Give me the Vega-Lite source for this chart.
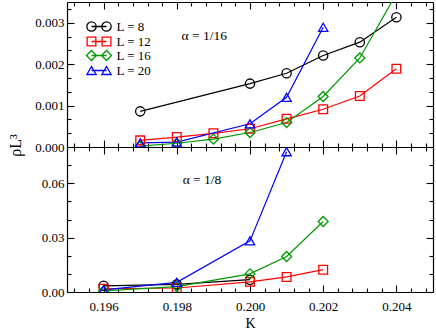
{
  "$schema": "https://vega.github.io/schema/vega-lite/v6.json",
  "padding": {"left": 7, "top": 1, "right": 2, "bottom": 0},
  "config": {
    "font": "Liberation Serif",
    "view": {"stroke": null},
    "axis": {
      "domainColor": "black", "domainWidth": 1.2, "tickColor": "black", "tickWidth": 1.1,
      "labelColor": "black", "titleColor": "black", "labelFont": "Liberation Serif", "titleFont": "Liberation Serif",
      "labelFontSize": 13, "titleFontWeight": "normal", "grid": false, "labelOverlap": false, "labelFlush": false
    },
    "legend": {
      "title": null, "orient": "none", "legendX": 25, "legendY": 17.5, "padding": 0, "labelFontSize": 13, "labelFont": "Liberation Serif", "labelColor": "black",
      "symbolSize": 144, "symbolStrokeWidth": 1.3, "rowPadding": -4, "labelOffset": 10.5
    }
  },
  "datasets": {
    "top": [
      {"L": "L = 8", "K": 0.197, "v": 0.00086},
      {"L": "L = 8", "K": 0.200, "v": 0.00153},
      {"L": "L = 8", "K": 0.201, "v": 0.00178},
      {"L": "L = 8", "K": 0.202, "v": 0.00221},
      {"L": "L = 8", "K": 0.203, "v": 0.00253},
      {"L": "L = 8", "K": 0.204, "v": 0.00313},
      {"L": "L = 12", "K": 0.197, "v": 0.00016},
      {"L": "L = 12", "K": 0.198, "v": 0.00024},
      {"L": "L = 12", "K": 0.199, "v": 0.00033},
      {"L": "L = 12", "K": 0.200, "v": 0.00044},
      {"L": "L = 12", "K": 0.201, "v": 0.00068},
      {"L": "L = 12", "K": 0.202, "v": 0.00091},
      {"L": "L = 12", "K": 0.203, "v": 0.00123},
      {"L": "L = 12", "K": 0.204, "v": 0.00189},
      {"L": "L = 16", "K": 0.197, "v": 0.00002},
      {"L": "L = 16", "K": 0.198, "v": 0.00009},
      {"L": "L = 16", "K": 0.199, "v": 0.00019},
      {"L": "L = 16", "K": 0.200, "v": 0.00035},
      {"L": "L = 16", "K": 0.201, "v": 0.00059},
      {"L": "L = 16", "K": 0.202, "v": 0.00122},
      {"L": "L = 16", "K": 0.203, "v": 0.00215},
      {"L": "L = 16", "K": 0.204, "v": 0.0037},
      {"L": "L = 20", "K": 0.197, "v": 0.0001},
      {"L": "L = 20", "K": 0.198, "v": 0.00012},
      {"L": "L = 20", "K": 0.200, "v": 0.00056},
      {"L": "L = 20", "K": 0.201, "v": 0.0012},
      {"L": "L = 20", "K": 0.202, "v": 0.00289}
    ],
    "bottom": [
      {"L": "L = 8", "K": 0.196, "v": 0.0034},
      {"L": "L = 8", "K": 0.198, "v": 0.0042},
      {"L": "L = 8", "K": 0.200, "v": 0.0068},
      {"L": "L = 12", "K": 0.196, "v": 0.0018},
      {"L": "L = 12", "K": 0.198, "v": 0.0022},
      {"L": "L = 12", "K": 0.200, "v": 0.0056},
      {"L": "L = 12", "K": 0.201, "v": 0.0083},
      {"L": "L = 12", "K": 0.202, "v": 0.0123},
      {"L": "L = 16", "K": 0.196, "v": 0.0006},
      {"L": "L = 16", "K": 0.198, "v": 0.0030},
      {"L": "L = 16", "K": 0.200, "v": 0.0100},
      {"L": "L = 16", "K": 0.201, "v": 0.0196},
      {"L": "L = 16", "K": 0.202, "v": 0.0389},
      {"L": "L = 20", "K": 0.196, "v": 0.0012},
      {"L": "L = 20", "K": 0.198, "v": 0.0053},
      {"L": "L = 20", "K": 0.200, "v": 0.0282},
      {"L": "L = 20", "K": 0.201, "v": 0.0774}
    ],
    "notesTop": [{"K": 0.19813, "v": 0.00269, "note": "α = 1/16"}],
    "notesBottom": [{"K": 0.19816, "v": 0.0618, "note": "α = 1/8"}]
  },
  "vconcat": [
    {
      "width": 366, "height": 145,
      "layer": [
        {
          "data": {"name": "top"},
          "mark": {"type": "line", "clip": true, "strokeWidth": 1.2},
          "encoding": {
            "x": {"field": "K", "type": "quantitative", "scale": {"domain": [0.195, 0.205], "nice": false, "zero": false},
              "axis": {"orient": "bottom", "title": null, "labels": false,
                "values": [0.1952,0.1956,0.196,0.1964,0.1968,0.1972,0.1976,0.198,0.1984,0.1988,0.1992,0.1996,0.2,0.2004,0.2008,0.2012,0.2016,0.202,0.2024,0.2028,0.2032,0.2036,0.204,0.2044,0.2048],
                "tickSize": {"condition": {"test": "abs(datum.value*500 - round(datum.value*500)) < 0.001", "value": -7}, "value": -4}}},
            "y": {"field": "v", "type": "quantitative", "scale": {"domain": [0, 0.0035], "nice": false},
              "axis": {"orient": "left", "title": "ρL³", "titleFontSize": 16, "titleY": 143, "titlePadding": 11.5,
                "values": [0,0.00033333,0.00066667,0.001,0.00133333,0.00166667,0.002,0.00233333,0.00266667,0.003,0.00333333],
                "labelExpr": "abs(datum.value*1000 - round(datum.value*1000)) < 0.01 ? format(datum.value, '.3f') : ''",
                "labelPadding": 10,
                "tickSize": {"condition": {"test": "abs(datum.value*1000 - round(datum.value*1000)) < 0.01", "value": -7}, "value": -4}}},
            "color": {"field": "L", "type": "nominal",
              "scale": {"domain": ["L = 8", "L = 12", "L = 16", "L = 20"], "range": ["#000000", "#ff0000", "#009900", "#0000ff"]},
              "legend": {"encode": {"symbols": {"update": {"fill": {"value": "transparent"}, "shape": {"signal": "datum.value === 'L = 8' ? 'M-1.25,0 L1.25,0 M-0.475,0 A0.775,0.775 0 1 1 -2.025,0 A0.775,0.775 0 1 1 -0.475,0 M2.025,0 A0.775,0.775 0 1 1 0.475,0 A0.775,0.775 0 1 1 2.025,0' : datum.value === 'L = 12' ? 'M-1.25,0 L1.25,0 M-1.975,-0.725 L-0.525,-0.725 L-0.525,0.725 L-1.975,0.725 Z M0.525,-0.725 L1.975,-0.725 L1.975,0.725 L0.525,0.725 Z' : datum.value === 'L = 16' ? 'M-1.25,0 L1.25,0 M-2.08,0 L-1.25,-0.83 L-0.42,0 L-1.25,0.83 Z M0.42,0 L1.25,-0.83 L2.08,0 L1.25,0.83 Z' : 'M-1.25,0 L1.25,0 M-1.25,-0.67 L-2.025,0.67 L-0.475,0.67 Z M1.25,-0.67 L0.475,0.67 L2.025,0.67 Z'"}}}}}}
          }
        },
        {
          "data": {"name": "top"},
          "transform": [{"filter": "datum.L === 'L = 8'"}],
          "mark": {"type": "point", "shape": "circle", "size": 86, "filled": false, "clip": true, "strokeWidth": 1.3, "opacity": 1},
          "encoding": {
            "x": {"field": "K", "type": "quantitative", "scale": {"domain": [0.195, 0.205], "nice": false, "zero": false},
              "axis": {"orient": "top", "title": null, "labels": false,
                "values": [0.1952,0.1956,0.196,0.1964,0.1968,0.1972,0.1976,0.198,0.1984,0.1988,0.1992,0.1996,0.2,0.2004,0.2008,0.2012,0.2016,0.202,0.2024,0.2028,0.2032,0.2036,0.204,0.2044,0.2048],
                "tickSize": {"condition": {"test": "abs(datum.value*500 - round(datum.value*500)) < 0.001", "value": -7}, "value": -4}}},
            "y": {"field": "v", "type": "quantitative", "scale": {"domain": [0, 0.0035], "nice": false},
              "axis": {"orient": "right", "title": null, "labels": false,
                "values": [0,0.00033333,0.00066667,0.001,0.00133333,0.00166667,0.002,0.00233333,0.00266667,0.003,0.00333333],
                "tickSize": {"condition": {"test": "abs(datum.value*1000 - round(datum.value*1000)) < 0.01", "value": -7}, "value": -4}}},
            "color": {"field": "L", "type": "nominal"}
          }
        },
        {
          "data": {"name": "top"},
          "transform": [{"filter": "datum.L === 'L = 12'"}],
          "mark": {"type": "point", "shape": "square", "size": 76, "filled": false, "clip": true, "strokeWidth": 1.3, "opacity": 1},
          "encoding": {
            "x": {"field": "K", "type": "quantitative", "axis": null},
            "y": {"field": "v", "type": "quantitative", "axis": null},
            "color": {"field": "L", "type": "nominal"}
          }
        },
        {
          "data": {"name": "top"},
          "transform": [{"filter": "datum.L === 'L = 16'"}],
          "mark": {"type": "point", "shape": "diamond", "size": 100, "filled": false, "clip": true, "strokeWidth": 1.3, "opacity": 1},
          "encoding": {
            "x": {"field": "K", "type": "quantitative", "axis": null},
            "y": {"field": "v", "type": "quantitative", "axis": null},
            "color": {"field": "L", "type": "nominal"}
          }
        },
        {
          "data": {"name": "top"},
          "transform": [{"filter": "datum.L === 'L = 20'"}],
          "mark": {"type": "point", "shape": "triangle-up", "size": 86, "filled": false, "clip": true, "strokeWidth": 1.3, "opacity": 1},
          "encoding": {
            "x": {"field": "K", "type": "quantitative", "axis": null},
            "y": {"field": "v", "type": "quantitative", "axis": null},
            "color": {"field": "L", "type": "nominal"}
          }
        },
        {
          "data": {"name": "notesTop"},
          "mark": {"type": "text", "align": "left", "baseline": "middle", "fontSize": 13.5, "font": "Liberation Serif", "color": "black"},
          "encoding": {
            "x": {"field": "K", "type": "quantitative", "axis": null},
            "y": {"field": "v", "type": "quantitative", "axis": null},
            "text": {"field": "note"}
          }
        }
      ],
      "resolve": {"axis": {"x": "independent", "y": "independent"}}
    },
    {
      "width": 366, "height": 145,
      "layer": [
        {
          "data": {"name": "bottom"},
          "mark": {"type": "line", "clip": true, "strokeWidth": 1.2},
          "encoding": {
            "x": {"field": "K", "type": "quantitative", "scale": {"domain": [0.195, 0.205], "nice": false, "zero": false},
              "axis": {"orient": "bottom", "title": "K", "titleFontSize": 14, "titlePadding": 0, "labelPadding": 15,
                "values": [0.1952,0.1956,0.196,0.1964,0.1968,0.1972,0.1976,0.198,0.1984,0.1988,0.1992,0.1996,0.2,0.2004,0.2008,0.2012,0.2016,0.202,0.2024,0.2028,0.2032,0.2036,0.204,0.2044,0.2048],
                "labelExpr": "abs(datum.value*500 - round(datum.value*500)) < 0.001 ? format(datum.value, '.3f') : ''",
                "tickSize": {"condition": {"test": "abs(datum.value*500 - round(datum.value*500)) < 0.001", "value": -7}, "value": -4}}},
            "y": {"field": "v", "type": "quantitative", "scale": {"domain": [0, 0.08], "nice": false},
              "axis": {"orient": "left", "title": null,
                "values": [0,0.01,0.02,0.03,0.04,0.05,0.06,0.07],
                "labelExpr": "abs(datum.value*100/3 - round(datum.value*100/3)) < 0.01 ? format(datum.value, '.2f') : ''",
                "labelPadding": 10,
                "tickSize": {"condition": {"test": "abs(datum.value*100/3 - round(datum.value*100/3)) < 0.01", "value": -7}, "value": -4}}},
            "color": {"field": "L", "type": "nominal",
              "scale": {"domain": ["L = 8", "L = 12", "L = 16", "L = 20"], "range": ["#000000", "#ff0000", "#009900", "#0000ff"]}}
          }
        },
        {
          "data": {"name": "bottom"},
          "transform": [{"filter": "datum.L === 'L = 8'"}],
          "mark": {"type": "point", "shape": "circle", "size": 86, "filled": false, "clip": true, "strokeWidth": 1.3, "opacity": 1},
          "encoding": {
            "x": {"field": "K", "type": "quantitative", "scale": {"domain": [0.195, 0.205], "nice": false, "zero": false},
              "axis": {"orient": "top", "title": null, "labels": false,
                "values": [0.1952,0.1956,0.196,0.1964,0.1968,0.1972,0.1976,0.198,0.1984,0.1988,0.1992,0.1996,0.2,0.2004,0.2008,0.2012,0.2016,0.202,0.2024,0.2028,0.2032,0.2036,0.204,0.2044,0.2048],
                "tickSize": {"condition": {"test": "abs(datum.value*500 - round(datum.value*500)) < 0.001", "value": -7}, "value": -4}}},
            "y": {"field": "v", "type": "quantitative", "scale": {"domain": [0, 0.08], "nice": false},
              "axis": {"orient": "right", "title": null, "labels": false,
                "values": [0,0.01,0.02,0.03,0.04,0.05,0.06,0.07],
                "tickSize": {"condition": {"test": "abs(datum.value*100/3 - round(datum.value*100/3)) < 0.01", "value": -7}, "value": -4}}},
            "color": {"field": "L", "type": "nominal"}
          }
        },
        {
          "data": {"name": "bottom"},
          "transform": [{"filter": "datum.L === 'L = 12'"}],
          "mark": {"type": "point", "shape": "square", "size": 76, "filled": false, "clip": true, "strokeWidth": 1.3, "opacity": 1},
          "encoding": {
            "x": {"field": "K", "type": "quantitative", "axis": null},
            "y": {"field": "v", "type": "quantitative", "axis": null},
            "color": {"field": "L", "type": "nominal"}
          }
        },
        {
          "data": {"name": "bottom"},
          "transform": [{"filter": "datum.L === 'L = 16'"}],
          "mark": {"type": "point", "shape": "diamond", "size": 100, "filled": false, "clip": true, "strokeWidth": 1.3, "opacity": 1},
          "encoding": {
            "x": {"field": "K", "type": "quantitative", "axis": null},
            "y": {"field": "v", "type": "quantitative", "axis": null},
            "color": {"field": "L", "type": "nominal"}
          }
        },
        {
          "data": {"name": "bottom"},
          "transform": [{"filter": "datum.L === 'L = 20'"}],
          "mark": {"type": "point", "shape": "triangle-up", "size": 86, "filled": false, "clip": true, "strokeWidth": 1.3, "opacity": 1},
          "encoding": {
            "x": {"field": "K", "type": "quantitative", "axis": null},
            "y": {"field": "v", "type": "quantitative", "axis": null},
            "color": {"field": "L", "type": "nominal"}
          }
        },
        {
          "data": {"name": "notesBottom"},
          "mark": {"type": "text", "align": "left", "baseline": "middle", "fontSize": 13.5, "font": "Liberation Serif", "color": "black"},
          "encoding": {
            "x": {"field": "K", "type": "quantitative", "axis": null},
            "y": {"field": "v", "type": "quantitative", "axis": null},
            "text": {"field": "note"}
          }
        }
      ],
      "resolve": {"axis": {"x": "independent", "y": "independent"}}
    }
  ],
  "spacing": 0,
  "bounds": "flush",
  "resolve": {"scale": {"y": "independent"}}
}
